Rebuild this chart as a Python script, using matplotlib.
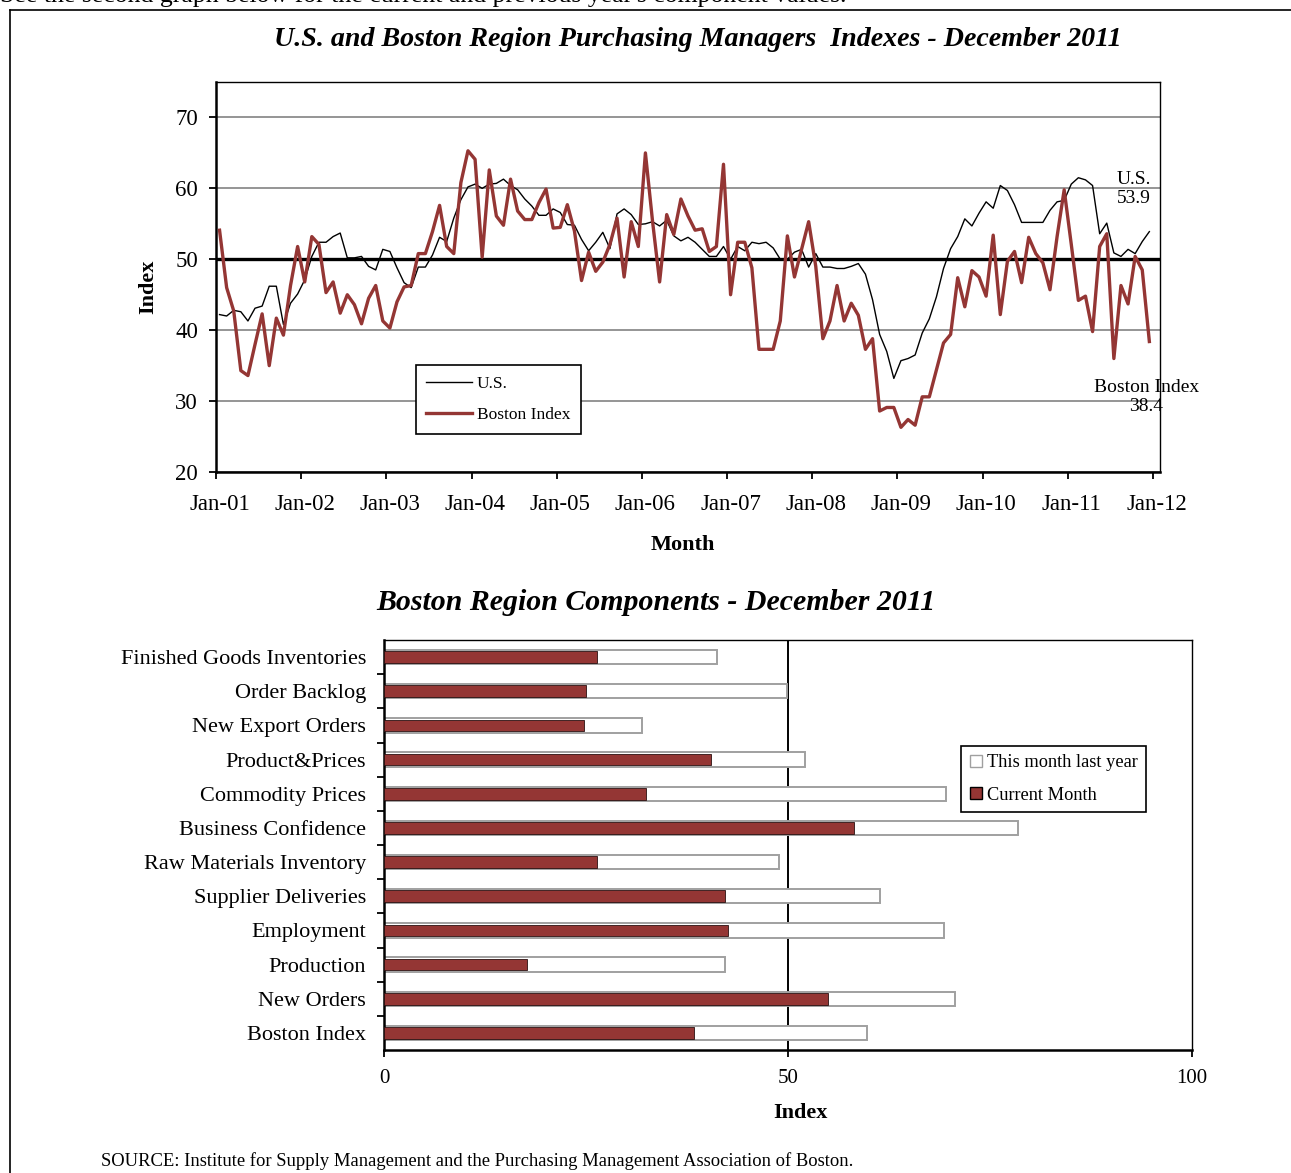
import numpy as np
import matplotlib
matplotlib.use("Agg")
import matplotlib.pyplot as plt
from matplotlib.lines import Line2D

plt.rcParams['font.family'] = ['Liberation Serif', 'DejaVu Serif']

# monthly values Jan-01 .. Dec-11
us = [42.2, 42.0, 42.8, 42.6, 41.3, 43.1, 43.4, 46.2, 46.2, 40.8, 43.8, 45.1,
      47.1, 50.4, 52.4, 52.4, 53.2, 53.7, 50.2, 50.2, 50.4, 49.0, 48.5, 51.4,
      51.1, 48.8, 46.7, 46.0, 48.9, 48.9, 50.6, 53.1, 52.5, 55.8, 58.4, 60.2,
      60.6, 60.0, 60.6, 60.7, 61.3, 60.4, 59.8, 58.5, 57.5, 56.2, 56.2, 57.1,
      56.6, 54.9, 54.8, 52.8, 51.2, 52.4, 53.8, 51.5, 56.4, 57.1, 56.3, 54.9,
      55.0, 55.3, 54.7, 55.5, 53.3, 52.6, 53.1, 52.4, 51.4, 50.4, 50.4, 51.8,
      50.0, 51.8, 51.2, 52.4, 52.2, 52.4, 51.6, 50.0, 50.0, 51.0, 51.4, 48.9,
      50.8, 48.9, 48.9, 48.7, 48.7, 49.0, 49.4, 47.9, 44.3, 39.4, 37.0, 33.2,
      35.7, 36.0, 36.5, 39.6, 41.6, 44.7, 48.7, 51.5, 53.2, 55.7, 54.7, 56.5,
      58.1, 57.2, 60.4, 59.7, 57.7, 55.2, 55.2, 55.2, 55.2, 56.9, 58.1, 58.3,
      60.6, 61.5, 61.2, 60.4, 53.6, 55.1, 50.9, 50.4, 51.4, 50.8, 52.5, 53.9]

boston = [54.1, 46.0, 42.7, 34.3, 33.6, 38.0, 42.3, 35.0, 41.7, 39.3, 46.3, 51.8,
          46.8, 53.2, 52.1, 45.3, 46.8, 42.4, 45.0, 43.6, 40.9, 44.5, 46.3, 41.3,
          40.3, 44.0, 46.1, 46.3, 50.8, 50.8, 53.9, 57.6, 51.8, 50.8, 60.8, 65.3,
          64.1, 50.3, 62.6, 56.1, 54.8, 61.3, 56.8, 55.6, 55.6, 58.0, 59.9, 54.4,
          54.5, 57.7, 54.0, 47.0, 51.0, 48.3, 49.6, 52.1, 55.8, 47.5, 55.3, 51.8,
          65.0, 55.4, 46.8, 56.3, 53.5, 58.5, 56.1, 54.1, 54.3, 51.1, 51.8, 63.4,
          45.0, 52.4, 52.4, 48.8, 37.3, 37.3, 37.3, 41.3, 53.3, 47.5, 51.4, 55.3,
          49.0, 38.8, 41.3, 46.3, 41.3, 43.8, 42.1, 37.3, 38.8, 28.6, 29.1, 29.1,
          26.3, 27.4, 26.6, 30.6, 30.6, 34.4, 38.2, 39.4, 47.4, 43.3, 48.4, 47.5,
          44.8, 53.4, 42.2, 49.7, 51.1, 46.7, 53.1, 50.8, 49.5, 45.7, 53.2, 59.8,
          52.1, 44.2, 44.8, 39.8, 51.8, 53.6, 36.0, 46.3, 43.7, 50.4, 48.5, 38.4]

year_labels = ['Jan-01', 'Jan-02', 'Jan-03', 'Jan-04', 'Jan-05', 'Jan-06',
               'Jan-07', 'Jan-08', 'Jan-09', 'Jan-10', 'Jan-11', 'Jan-12']

components = ['Finished Goods Inventories', 'Order Backlog', 'New Export Orders',
              'Product&Prices', 'Commodity Prices', 'Business Confidence',
              'Raw Materials Inventory', 'Supplier Deliveries', 'Employment',
              'Production', 'New Orders', 'Boston Index']
current_month = [26.4, 25.0, 24.7, 40.5, 32.4, 58.2, 26.4, 42.2, 42.6, 17.7, 55.0, 38.4]
last_year = [41.2, 49.9, 31.9, 52.1, 69.6, 78.5, 48.9, 61.4, 69.3, 42.2, 70.7, 59.8]

red = '#943634'
months = np.arange(len(us))

fig = plt.figure(figsize=(12.91, 11.73), dpi=100)

# page frame and cut-off text above
fig.add_artist(Line2D([10/1291, 1.0], [1 - 10/1173, 1 - 10/1173], color='black', lw=1.2))
fig.add_artist(Line2D([10/1291, 10/1291], [0, 1 - 10/1173], color='black', lw=1.2))
fig.text(0.0, 1 - 2/1173, "See the second graph below for the current and previous year's component values.",
         fontsize=18.5, va='baseline', ha='left')

# ---- top chart
ax = fig.add_axes([216/1291, 1 - 472/1173, 944/1291, 390/1173])
ax.plot(months, us, color='black', lw=1.0, label='U.S.', zorder=3)
ax.plot(months, boston, color=red, lw=2.4, label='Boston Index', zorder=4)
ax.axhline(50, color='black', lw=2.4, zorder=2)
ax.set_xlim(-0.5, 132.5)
ax.set_ylim(20, 75)
ax.set_yticks([20, 30, 40, 50, 60, 70])
ax.yaxis.grid(True, color='#8c8c8c', lw=1.3)
ax.set_axisbelow(True)
ax.set_xticks(np.arange(12) * 12 - 0.5)
ax.set_xticklabels([])
ax.set_xticks(np.arange(12) * 12, minor=True)
ax.set_xticklabels(year_labels, minor=True)
ax.tick_params(axis='x', which='major', direction='out', length=5, width=1.3)
ax.tick_params(axis='x', which='minor', length=0, pad=16, labelsize=16.5)
ax.tick_params(axis='y', direction='out', length=5, width=1.3, pad=8, labelsize=16.5)
for s in ['left', 'bottom']:
    ax.spines[s].set_linewidth(1.8)
for s in ['top', 'right']:
    ax.spines[s].set_linewidth(1.0)
ax.set_ylabel('Index', fontsize=16, fontweight='bold')
ax.yaxis.set_label_coords(-0.061, 0.474)
ax.set_xlabel('Month', fontsize=16, fontweight='bold')
ax.xaxis.set_label_coords(0.4947, -0.162)
leg = ax.legend(loc='upper left', bbox_to_anchor=(0.2119, 0.274), borderaxespad=0,
                fontsize=12.5, fancybox=False, edgecolor='black', framealpha=1,
                handlelength=2.6, labelspacing=0.9, borderpad=0.6, handletextpad=0.3)
leg.get_frame().set_linewidth(1.2)
ax.text(128.8, 59.9, f'U.S.\n{us[-1]:.1f}', ha='center', va='center', fontsize=14, linespacing=1.15)
ax.text(130.6, 30.6, f'Boston Index\n{boston[-1]:.1f}', ha='center', va='center', fontsize=14,
        linespacing=1.15)

fig.text(698/1291, 1 - 39/1173, 'U.S. and Boston Region Purchasing Managers  Indexes - December 2011',
         ha='center', va='center', fontsize=20.2, fontweight='bold', style='italic')

# ---- bottom chart
bx = fig.add_axes([384/1291, 1 - 1050/1173, 808/1291, 410/1173])
pos = np.arange(len(components))
bx.barh(pos, last_year, height=0.42, color='white', edgecolor='#a0a0a0', lw=1.4,
        label='This month last year', zorder=2)
bx.barh(pos, current_month, height=0.34, color=red, edgecolor='#2a1010', lw=0.6,
        label='Current Month', zorder=3)
bx.axvline(50, color='black', lw=1.4, zorder=1)
bx.set_xlim(0, 100)
bx.set_ylim(len(components) - 0.5, -0.5)
bx.set_xticks([0, 50, 100])
bx.set_yticks(pos[:-1] + 0.5)
bx.set_yticklabels([])
bx.set_yticks(pos, minor=True)
bx.set_yticklabels(components, minor=True)
bx.tick_params(axis='y', which='major', direction='out', length=5, width=1.3)
bx.tick_params(axis='y', which='minor', length=0, pad=13, labelsize=16)
bx.tick_params(axis='x', direction='out', length=5, width=1.3, pad=9, labelsize=15)
for s in ['left', 'bottom']:
    bx.spines[s].set_linewidth(1.8)
for s in ['top', 'right']:
    bx.spines[s].set_linewidth(1.0)
bx.set_xlabel('Index', fontsize=16, fontweight='bold')
bx.xaxis.set_label_coords(0.515, -0.13)
handles = [Line2D([], [], marker='s', ls='none', markersize=8, markerfacecolor='white',
                  markeredgecolor='#a0a0a0', label='This month last year'),
           Line2D([], [], marker='s', ls='none', markersize=8, markerfacecolor=red,
                  markeredgecolor='black', label='Current Month')]
leg2 = bx.legend(handles=handles, loc='upper left', bbox_to_anchor=(0.714, 0.7415),
                 borderaxespad=0, fontsize=13.2, fancybox=False, edgecolor='black',
                 framealpha=1, handlelength=0.8, handletextpad=0.2, labelspacing=0.85,
                 borderpad=0.45)
leg2.get_frame().set_linewidth(1.2)

fig.text(656/1291, 1 - 602/1173, 'Boston Region Components - December 2011',
         ha='center', va='center', fontsize=21.5, fontweight='bold', style='italic')

fig.text(101/1291, 1 - 1161/1173,
         'SOURCE: Institute for Supply Management and the Purchasing Management Association of Boston.',
         ha='left', va='center', fontsize=13.4)

fig.savefig('out.png', dpi=100)
